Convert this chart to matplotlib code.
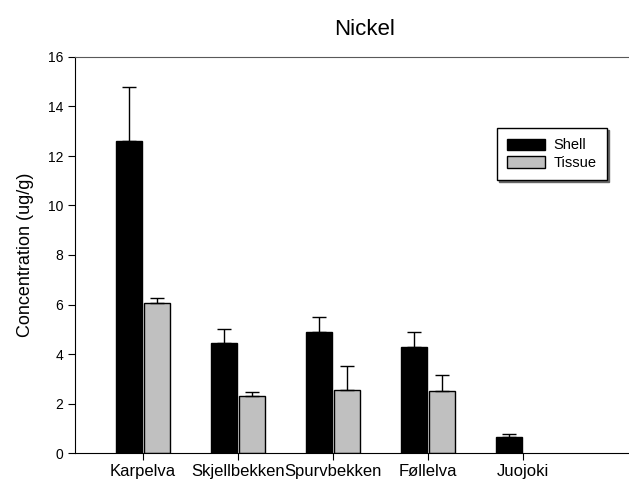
import numpy as np
import matplotlib
matplotlib.use("Agg")
import matplotlib.pyplot as plt

plt.rcParams['font.family'] = ['Liberation Sans', 'DejaVu Sans']

sites = ["Karpelva", "Skjellbekken", "Spurvbekken", "Føllelva", "Juojoki"]
shell = [12.6, 4.45, 4.9, 4.3, 0.65]
shell_err = [2.2, 0.55, 0.6, 0.6, 0.1]
tissue = [6.05, 2.3, 2.55, 2.5, 0.0]
tissue_err = [0.2, 0.15, 0.95, 0.65, 0.0]

x = np.arange(len(sites))
w = 0.27

fig = plt.figure(figsize=(6.29, 4.90), dpi=100)
ax = fig.add_axes([75/629, 37/490, 590/629, 396/490])

ax.bar(x - 0.145, shell, w, color="black", edgecolor="black", linewidth=1,
       yerr=[np.zeros(5), shell_err], error_kw=dict(ecolor="black", elinewidth=1, capsize=5, capthick=1),
       label="Shell")
t = np.array(tissue)
ax.bar(x[t > 0] + 0.15, t[t > 0], w, color="#c0c0c0", edgecolor="black", linewidth=1,
       yerr=[np.zeros(4), np.array(tissue_err)[t > 0]],
       error_kw=dict(ecolor="black", elinewidth=1, capsize=5, capthick=1),
       label="Tissue")

ax.set_xlim(-0.716, 5.5)
ax.set_ylim(0, 16)
ax.set_yticks(np.arange(0, 17, 2))
ax.set_xticks(x)
ax.set_xticklabels(sites, fontsize=12)
ax.tick_params(axis="y", labelsize=10, length=5, direction="out")
ax.tick_params(axis="x", length=5, direction="out", pad=3)
ax.spines["right"].set_visible(False)
ax.spines["top"].set_color("0.35")
ax.set_ylabel("Concentration (ug/g)", fontsize=13, labelpad=10)
ax.set_title("Nickel", fontsize=16, pad=16, x=0.49)

leg = ax.legend(loc="upper left", bbox_to_anchor=(0.715, 0.82), borderaxespad=0,
                frameon=True, fancybox=False,
                shadow={'ox': 1.5, 'oy': -1.5, 'color': '0.4', 'alpha': 1},
                fontsize=10.5, handlelength=2.6, handleheight=0.8, borderpad=0.7,
                labelspacing=0.25, handletextpad=0.6)
leg.get_frame().set_edgecolor("black")
leg.get_frame().set_linewidth(1)

plt.savefig("out.png", dpi=100)
